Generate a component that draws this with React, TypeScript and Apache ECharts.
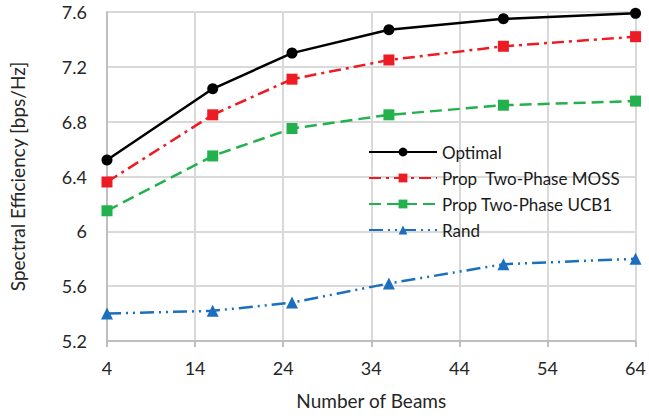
import React, { useEffect, useRef } from "react";
import * as echarts from "echarts";

const beams = [4, 16, 25, 36, 49, 64];
const optimal = [6.52, 7.04, 7.3, 7.47, 7.55, 7.59];
const moss = [6.36, 6.85, 7.11, 7.25, 7.35, 7.42];
const ucb1 = [6.15, 6.55, 6.75, 6.85, 6.92, 6.95];
const rand = [5.4, 5.42, 5.48, 5.62, 5.76, 5.8];
const seriesNames = ["Optimal", "Prop  Two-Phase MOSS", "Prop Two-Phase UCB1", "Rand"];

const FONT = "Lato, 'Open Sans', sans-serif";

export default function App() {
  const ref = useRef<HTMLDivElement>(null);
  useEffect(() => {
    const chart = echarts.init(ref.current!, null, { renderer: "svg" });
    const pts = (ys: number[]) => beams.map((x, i) => [x, ys[i]]);
    chart.setOption({
      animation: false,
      textStyle: { fontFamily: FONT },
      grid: { left: 99, right: 12, top: 12, bottom: 77, containLabel: false },
      legend: {
        orient: "vertical",
        left: 363,
        top: 137,
        itemWidth: 68,
        itemHeight: 11,
        itemGap: 6,
        textStyle: { fontFamily: FONT, fontSize: 17, color: "#1a1a1a", lineHeight: 20 },
        data: seriesNames,
      },
      xAxis: {
        type: "value",
        min: 4,
        max: 64,
        interval: 10,
        name: "Number of Beams",
        nameLocation: "middle",
        nameGap: 50,
        nameTextStyle: { fontFamily: FONT, fontSize: 19, color: "#262626" },
        axisLine: { show: true, lineStyle: { color: "#bfbfbf", width: 2 } },
        axisTick: { show: true, length: 6, lineStyle: { color: "#bfbfbf", width: 2 } },
        axisLabel: { fontFamily: FONT, fontSize: 18, color: "#262626", margin: 18 },
        splitLine: { show: true, lineStyle: { color: "#d9d9d9", width: 2 } },
      },
      yAxis: {
        type: "value",
        min: 5.2,
        max: 7.6,
        interval: 0.4,
        name: "Spectral Efficiency [bps/Hz]",
        nameLocation: "middle",
        nameGap: 80,
        nameTextStyle: { fontFamily: FONT, fontSize: 19, color: "#262626" },
        axisLine: { show: true, lineStyle: { color: "#bfbfbf", width: 2 } },
        axisTick: { show: false },
        axisLabel: {
          fontFamily: FONT,
          fontSize: 18,
          color: "#262626",
          margin: 20,
          formatter: (v: number) => String(Math.round(v * 10) / 10),
        },
        splitLine: { show: true, lineStyle: { color: "#d9d9d9", width: 2 } },
      },
      series: [
        {
          name: seriesNames[0],
          type: "line",
          data: pts(optimal),
          symbol: "circle",
          symbolSize: 11,
          lineStyle: { color: "#000000", width: 2.5 },
          itemStyle: { color: "#000000" },
          z: 5,
        },
        {
          name: seriesNames[1],
          type: "line",
          data: pts(moss),
          symbol: "rect",
          symbolSize: 11,
          lineStyle: { color: "#ed1c24", width: 2.5, type: [12, 5, 3, 5] },
          itemStyle: { color: "#ed1c24" },
          z: 4,
        },
        {
          name: seriesNames[2],
          type: "line",
          data: pts(ucb1),
          symbol: "rect",
          symbolSize: 11,
          lineStyle: { color: "#22b14c", width: 2.5, type: [12, 6] },
          itemStyle: { color: "#22b14c" },
          z: 3,
        },
        {
          name: seriesNames[3],
          type: "line",
          data: pts(rand),
          symbol: "triangle",
          symbolSize: 12,
          lineStyle: { color: "#1b6fbd", width: 2.5, type: [14, 5, 2, 5, 2, 5] },
          itemStyle: { color: "#1b6fbd" },
          z: 2,
        },
      ],
    });
    return () => chart.dispose();
  }, []);
  return <div ref={ref} style={{ width: 649, height: 418, position: "absolute", left: 0, top: 0 }} />;
}
